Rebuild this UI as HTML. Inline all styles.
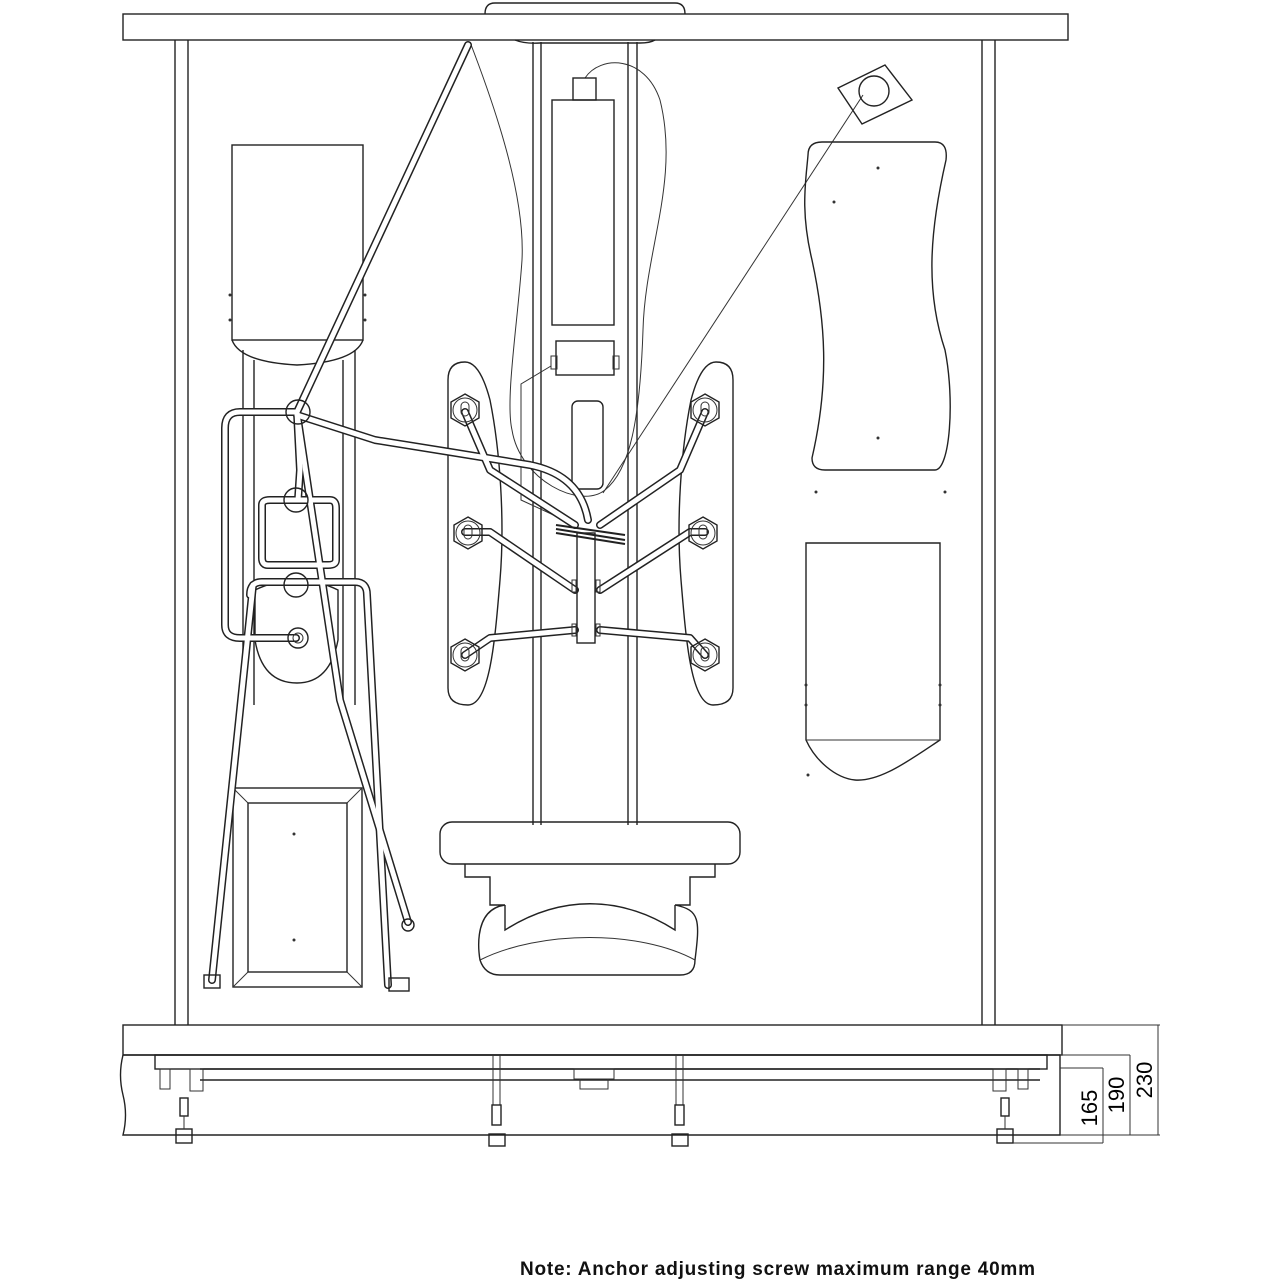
<!DOCTYPE html>
<html><head><style>
html,body{margin:0;padding:0;background:#fff;}
svg{display:block;}
text{font-family:"Liberation Sans",sans-serif;}
.l{fill:none;stroke:#222;stroke-width:1.4;}
.t{fill:none;stroke:#333;stroke-width:1;}
.po{fill:none;stroke:#222;stroke-width:8;stroke-linecap:round;stroke-linejoin:round;}
.pi{fill:none;stroke:#fff;stroke-width:5;stroke-linecap:round;stroke-linejoin:round;}
</style></head><body>
<svg width="1280" height="1280" viewBox="0 0 1280 1280" xmlns="http://www.w3.org/2000/svg">
<defs>
<g id="jet"><polygon points="0,-16 14,-8 14,8 0,16 -14,8 -14,-8" class="l" fill="#fff"/><circle r="12" class="t"/><rect x="-4" y="-8" width="8" height="14" rx="4" class="t"/></g>
</defs>
<!-- top -->
<path class="l" d="M485,14 Q485,3 495,3 L675,3 Q685,3 685,14"/>
<rect x="123" y="14" width="945" height="26" class="l" fill="#fff"/>
<path class="l" d="M515,40 Q525,44 540,43 L640,43 Q650,43 655,40"/>
<!-- frame -->
<line x1="175" y1="40" x2="175" y2="1025" class="l"/><line x1="188" y1="40" x2="188" y2="1025" class="l"/>
<line x1="982" y1="40" x2="982" y2="1025" class="l"/><line x1="995" y1="40" x2="995" y2="1025" class="l"/>
<!-- center column -->
<line x1="533" y1="42" x2="533" y2="825" class="l"/><line x1="541" y1="42" x2="541" y2="825" class="l"/>
<line x1="628" y1="42" x2="628" y2="825" class="l"/><line x1="637" y1="42" x2="637" y2="825" class="l"/>
<!-- swoosh -->
<path class="t" d="M470,42 C500,120 525,200 522,260 C518,320 505,400 512,430 C520,480 580,510 605,490 C630,470 640,420 643,330 C645,250 680,180 660,100 C645,55 600,55 585,78"/>
<rect x="573" y="78" width="23" height="22" class="l"/>
<rect x="552" y="100" width="62" height="225" class="l"/>
<rect x="556" y="341" width="58" height="34" class="l"/>
<rect x="551" y="356" width="6" height="13" class="t"/><rect x="613" y="356" width="6" height="13" class="t"/>
<path class="t" d="M551,366 L521,384 L521,500 L560,518"/>
<rect x="572" y="401" width="31" height="88" rx="6" class="l"/>
<line x1="603" y1="493" x2="863" y2="95" class="t"/>
<!-- vent -->
<polygon points="838,88 885,65 912,100 862,124" class="l"/>
<circle cx="874" cy="91" r="15" class="l"/>
<!-- right panel -->
<path class="l" d="M808,155 Q808,142 822,142 L935,142 Q948,142 946,160 C930,230 925,290 945,350 C955,400 950,470 935,470 L825,470 Q812,470 812,458 C830,380 825,320 812,260 C800,210 806,180 808,155 Z"/>
<circle cx="878" cy="168" r="1.5" fill="#333"/><circle cx="834" cy="202" r="1.5" fill="#333"/><circle cx="878" cy="438" r="1.5" fill="#333"/>
<circle cx="816" cy="492" r="1.5" fill="#333"/><circle cx="945" cy="492" r="1.5" fill="#333"/>
<path class="l" d="M806,543 L940,543 L940,740 C910,760 880,782 855,780 C835,778 815,760 806,740 Z"/>
<line x1="806" y1="740" x2="940" y2="740" class="t"/>
<circle cx="806" cy="685" r="1.5" fill="#333"/><circle cx="806" cy="705" r="1.5" fill="#333"/><circle cx="940" cy="685" r="1.5" fill="#333"/><circle cx="940" cy="705" r="1.5" fill="#333"/><circle cx="808" cy="775" r="1.5" fill="#333"/>
<!-- left tank -->
<rect x="232" y="145" width="131" height="195" class="l"/>
<circle cx="230" cy="295" r="1.5" fill="#333"/><circle cx="230" cy="320" r="1.5" fill="#333"/><circle cx="365" cy="295" r="1.5" fill="#333"/><circle cx="365" cy="320" r="1.5" fill="#333"/>
<path class="l" d="M232,340 Q240,362 297,365 Q355,362 363,340"/>
<line x1="243" y1="350" x2="243" y2="705" class="l"/><line x1="254" y1="360" x2="254" y2="705" class="l"/>
<line x1="343" y1="360" x2="343" y2="705" class="l"/><line x1="355" y1="350" x2="355" y2="705" class="l"/>
<path class="l" d="M255,640 L255,590 Q297,570 338,590 L338,640 Q330,683 297,683 Q262,683 255,640"/>
<rect x="233" y="788" width="129" height="199" class="l"/>
<rect x="248" y="803" width="99" height="169" class="l"/>
<line x1="233" y1="788" x2="248" y2="803" class="t"/><line x1="362" y1="788" x2="347" y2="803" class="t"/><line x1="233" y1="987" x2="248" y2="972" class="t"/><line x1="362" y1="987" x2="347" y2="972" class="t"/>
<circle cx="294" cy="834" r="1.5" fill="#333"/><circle cx="294" cy="940" r="1.5" fill="#333"/>
<!-- jet panels -->
<path class="l" d="M448,380 Q448,362 465,362 Q480,362 490,400 C500,450 505,520 500,580 C495,640 490,705 468,705 Q448,705 448,688 Z"/>
<path class="l" d="M733,380 Q733,362 716,362 Q701,362 691,400 C681,450 676,520 681,580 C686,640 691,705 713,705 Q733,705 733,688 Z"/>
<!-- seat -->
<rect x="440" y="822" width="300" height="42" rx="12" class="l"/>
<path class="l" d="M465,864 L465,877 L490,877 L490,905 L505,905 C470,910 480,960 480,960 Q485,975 500,975 L680,975 Q695,975 695,960 C700,920 700,910 675,905 L690,905 L690,877 L715,877 L715,864"/>
<path class="l" d="M505,905 L505,930 C560,895 620,895 675,930 L675,905"/>
<path class="t" d="M480,960 C540,930 640,930 695,960"/>
<!-- pipes -->
<g>
<path class="po" d="M468,45 L297,412 L300,470 L298,500"/>
<path class="po" d="M297,412 L240,412 Q225,412 225,428 L225,625 Q225,638 240,638 L296,638"/>
<path class="po" d="M297,415 L375,440 L450,452 L530,465 Q580,475 588,520"/>
<path class="po" d="M262,505 Q262,500 270,500 L330,500 Q336,500 336,508 L336,560 Q336,565 328,565 L268,565 Q262,565 262,558 Z"/>
<path class="po" d="M250,595 Q250,582 262,582 L355,582 Q367,582 367,595 L388,985"/>
<path class="po" d="M253,585 L212,980"/>
<path class="po" d="M298,420 L340,700 L408,922"/>
<path class="po" d="M465,412 L490,470 L575,525"/>
<path class="po" d="M465,532 L490,532 L575,590"/>
<path class="po" d="M465,655 L490,638 L575,630"/>
<path class="po" d="M705,412 L680,470 L600,525"/>
<path class="po" d="M705,532 L690,532 L600,590"/>
<path class="po" d="M705,655 L690,638 L600,630"/>
<path class="pi" d="M468,45 L297,412 L300,470 L298,500"/>
<path class="pi" d="M297,412 L240,412 Q225,412 225,428 L225,625 Q225,638 240,638 L296,638"/>
<path class="pi" d="M297,415 L375,440 L450,452 L530,465 Q580,475 588,520"/>
<path class="pi" d="M262,505 Q262,500 270,500 L330,500 Q336,500 336,508 L336,560 Q336,565 328,565 L268,565 Q262,565 262,558 Z"/>
<path class="pi" d="M250,595 Q250,582 262,582 L355,582 Q367,582 367,595 L388,985"/>
<path class="pi" d="M253,585 L212,980"/>
<path class="pi" d="M298,420 L340,700 L408,922"/>
<path class="pi" d="M465,412 L490,470 L575,525"/>
<path class="pi" d="M465,532 L490,532 L575,590"/>
<path class="pi" d="M465,655 L490,638 L575,630"/>
<path class="pi" d="M705,412 L680,470 L600,525"/>
<path class="pi" d="M705,532 L690,532 L600,590"/>
<path class="pi" d="M705,655 L690,638 L600,630"/>
</g>
<circle cx="298" cy="412" r="12" class="l" fill="#fff"/><circle cx="296" cy="500" r="12" class="l" fill="#fff"/><circle cx="296" cy="585" r="12" class="l" fill="#fff"/>
<circle cx="298" cy="638" r="10" class="l" fill="#fff"/><circle cx="298" cy="638" r="5" class="t"/>
<circle cx="408" cy="925" r="6" class="l" fill="#fff"/>
<rect x="204" y="975" width="16" height="13" class="l" fill="#fff"/><rect x="389" y="978" width="20" height="13" class="l" fill="#fff"/>
<use href="#jet" x="465" y="410"/><use href="#jet" x="468" y="533"/><use href="#jet" x="465" y="655"/>
<use href="#jet" x="705" y="410"/><use href="#jet" x="703" y="533"/><use href="#jet" x="705" y="655"/>
<rect x="577" y="533" width="18" height="110" class="l" fill="#fff"/>
<path d="M556,525 L625,535 M556,529 L625,540 M556,533 L625,544" stroke="#222" stroke-width="2" fill="none"/>
<rect x="572" y="580" width="4" height="12" class="t"/><rect x="596" y="580" width="4" height="12" class="t"/>
<rect x="572" y="624" width="4" height="12" class="t"/><rect x="596" y="624" width="4" height="12" class="t"/>
<!-- base -->
<rect x="123" y="1025" width="939" height="30" class="l" fill="#fff"/>
<path class="l" d="M123,1055 L1060,1055 L1060,1135 L123,1135 Q128,1115 123,1095 Q118,1075 123,1055"/>
<rect x="155" y="1055" width="892" height="14" class="l"/>
<line x1="200" y1="1069" x2="1040" y2="1069" class="l"/><line x1="200" y1="1080" x2="1040" y2="1080" class="l"/>
<rect x="190" y="1069" width="13" height="22" class="t"/><rect x="993" y="1069" width="13" height="22" class="t"/>
<rect x="160" y="1069" width="10" height="20" class="t"/><rect x="1018" y="1069" width="10" height="20" class="t"/>
<rect x="574" y="1069" width="40" height="10" class="t"/><rect x="580" y="1079" width="28" height="10" class="t"/>
<line x1="493" y1="1055" x2="493" y2="1105" class="t"/><line x1="500" y1="1055" x2="500" y2="1105" class="t"/>
<line x1="676" y1="1055" x2="676" y2="1105" class="t"/><line x1="683" y1="1055" x2="683" y2="1105" class="t"/>
<g fill="#fff" class="l">
<rect x="180" y="1098" width="8" height="18"/><rect x="176" y="1129" width="16" height="14"/>
<rect x="492" y="1105" width="9" height="20"/><rect x="489" y="1134" width="16" height="12"/>
<rect x="675" y="1105" width="9" height="20"/><rect x="672" y="1134" width="16" height="12"/>
<rect x="1001" y="1098" width="8" height="18"/><rect x="997" y="1129" width="16" height="14"/>
</g>
<line x1="184" y1="1116" x2="184" y2="1129" class="t"/><line x1="1005" y1="1116" x2="1005" y2="1129" class="t"/>
<!-- dims -->
<line x1="1062" y1="1025" x2="1160" y2="1025" class="t"/>
<line x1="1060" y1="1055" x2="1130" y2="1055" class="t"/>
<line x1="1060" y1="1068" x2="1103" y2="1068" class="t"/>
<line x1="1013" y1="1143" x2="1103" y2="1143" class="t"/>
<line x1="1060" y1="1135" x2="1160" y2="1135" class="t"/>
<line x1="1103" y1="1068" x2="1103" y2="1143" class="t"/>
<line x1="1130" y1="1055" x2="1130" y2="1135" class="t"/>
<line x1="1158" y1="1025" x2="1158" y2="1135" class="t"/>
<text transform="translate(1097,1108) rotate(-90)" font-size="22" text-anchor="middle">165</text>
<text transform="translate(1124,1095) rotate(-90)" font-size="22" text-anchor="middle">190</text>
<text transform="translate(1152,1080) rotate(-90)" font-size="22" text-anchor="middle">230</text>
<text x="520" y="1275" font-size="19" font-weight="bold" textLength="515" lengthAdjust="spacing" fill="#111">Note: Anchor adjusting screw maximum range 40mm</text>
</svg>
</body></html>
